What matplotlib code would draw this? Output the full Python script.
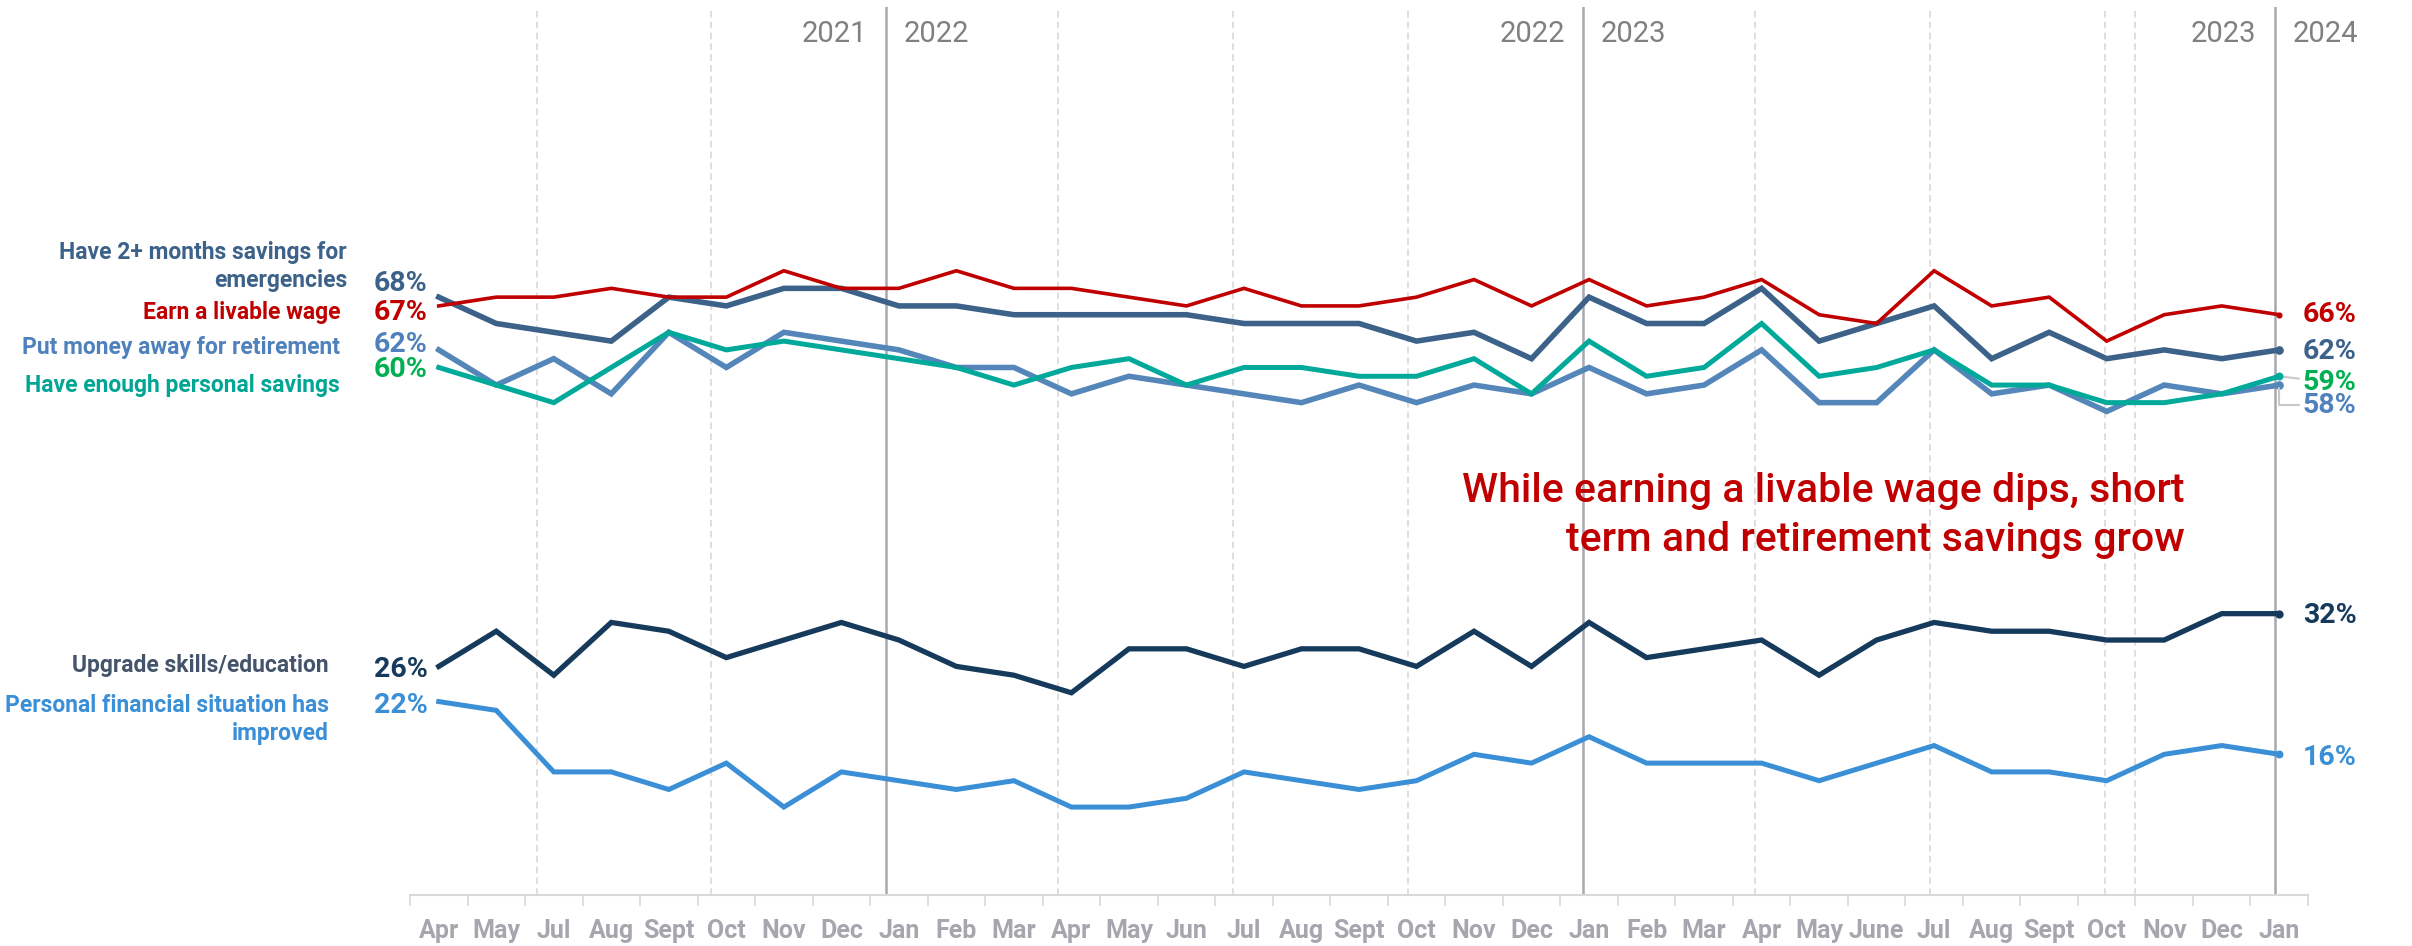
import matplotlib
matplotlib.use('Agg')
import matplotlib.pyplot as plt

plt.rcParams['font.family'] = ['Roboto', 'DejaVu Sans']

# survey waves, Apr 2021 .. Jan 2024
months = ['Apr', 'May', 'Jul', 'Aug', 'Sept', 'Oct', 'Nov', 'Dec', 'Jan', 'Feb', 'Mar',
          'Apr', 'May', 'Jun', 'Jul', 'Aug', 'Sept', 'Oct', 'Nov', 'Dec', 'Jan', 'Feb',
          'Mar', 'Apr', 'May', 'June', 'Jul', 'Aug', 'Sept', 'Oct', 'Nov', 'Dec', 'Jan']

emergencies = [68, 65, 64, 63, 68, 67, 69, 69, 67, 67, 66, 66, 66, 66, 65, 65, 65,
               63, 64, 61, 68, 65, 65, 69, 63, 65, 67, 61, 64, 61, 62, 61, 62]
livable_wage = [67, 68, 68, 69, 68, 68, 71, 69, 69, 71, 69, 69, 68, 67, 69, 67, 67,
                68, 70, 67, 70, 67, 68, 70, 66, 65, 71, 67, 68, 63, 66, 67, 66]
retirement = [62, 58, 61, 57, 64, 60, 64, 63, 62, 60, 60, 57, 59, 58, 57, 56, 58,
              56, 58, 57, 60, 57, 58, 62, 56, 56, 62, 57, 58, 55, 58, 57, 58]
personal_savings = [60, 58, 56, 60, 64, 62, 63, 62, 61, 60, 58, 60, 61, 58, 60, 60, 59,
                    59, 61, 57, 63, 59, 60, 65, 59, 60, 62, 58, 58, 56, 56, 57, 59]
upgrade_skills = [26, 30, 25, 31, 30, 27, 29, 31, 29, 26, 25, 23, 28, 28, 26, 28, 28,
                  26, 30, 26, 31, 27, 28, 29, 25, 29, 31, 30, 30, 29, 29, 32, 32]
fin_improved = [22, 21, 14, 14, 12, 15, 10, 14, 13, 12, 13, 10, 10, 11, 14, 13, 12,
                13, 16, 15, 18, 15, 15, 15, 13, 15, 17, 14, 14, 13, 16, 17, 16]

# year breaks (left year, right year)
year_breaks = [('2021', '2022'), ('2022', '2023'), ('2023', '2024')]

# quarter / year guide positions along the category axis
quarter_lines = [1.71, 4.73, 10.77, 13.81, 16.85, 22.89, 25.93, 28.97, 29.49]
year_lines = [7.77, 19.89, 31.92]

# styles: values, line colour, lw, z, name, name colour, name offset, pct colour, left pct offset, right pct offset
series = [
    (retirement, '#5586BA', 4.0, 3, 'Put money away for retirement', '#4F81BD', (-71, 2),
     '#4F81BD', (-8, 4), (17, -14.5)),
    (personal_savings, '#00A99A', 3.6, 4, 'Have enough personal savings', '#00A693', (-71, -13),
     '#00B050', (-8, -1.5), (17, -4.5)),
    (emergencies, '#3C6289', 4.0, 5, 'Have 2+ months savings for\nemergencies', '#3C6289', (-66, 22),
     '#3C6289', (-8, 10), (17, -1)),
    (livable_wage, '#C00000', 2.6, 6, 'Earn a livable wage', '#C00000', (-71, -5),
     '#C00000', (-8, -5), (17, 0)),
    (upgrade_skills, '#163A5C', 3.8, 5, 'Upgrade skills/education', '#44546A', (-79, 1),
     '#163A5C', (-8, -2), (17, -1)),
    (fin_improved, '#3A8FD6', 3.6, 5, 'Personal financial situation has\nimproved', '#3A8FD6', (-79, -13),
     '#3A8FD6', (-8, -3), (17, -2)),
]

fig = plt.figure(figsize=(24.12, 9.46), dpi=100)
ax = fig.add_axes([0.16998, 0.05391, 0.78690, 0.93869])
x = list(range(len(months)))
last = x[-1]

for q in quarter_lines:
    ax.axvline(q, color='#D9D9D9', lw=1.2, ls=(0, (4, 2.5)), zorder=1)
for yl in year_lines:
    ax.axvline(yl, color='#A8A8B0', lw=1.8, zorder=1)

for yl, (y_left, y_right) in zip(year_lines, year_breaks):
    ax.annotate(y_left, xy=(yl, 0.9696), xycoords=('data', 'axes fraction'),
                xytext=(-13, 0), textcoords='offset points', ha='right', va='center',
                fontsize=21, color='#808080')
    ax.annotate(y_right, xy=(yl, 0.9696), xycoords=('data', 'axes fraction'),
                xytext=(13, 0), textcoords='offset points', ha='left', va='center',
                fontsize=21, color='#808080')

for vals, lc, lw, z, name, ncol, noff, pcol, loff, roff in series:
    ax.plot(x, vals, color=lc, lw=lw, zorder=z, solid_joinstyle='miter')
    ax.plot([last], [vals[-1]], 'o', color=lc, ms=lw * 1.3, zorder=z)
    ax.annotate(name, xy=(0, vals[0]), xytext=noff, textcoords='offset points',
                ha='right', va='center', multialignment='right', fontsize=16.5,
                fontweight='bold', color=ncol, linespacing=1.3, annotation_clip=False)
    ax.annotate('%d%%' % vals[0], xy=(0, vals[0]), xytext=loff, textcoords='offset points',
                ha='right', va='center', fontsize=20.5, fontweight='bold', color=pcol,
                annotation_clip=False)
    arrow = None
    if vals is retirement:
        arrow = dict(arrowstyle='-', color='#C8C8C8', lw=1.5, shrinkA=1, shrinkB=2,
                     connectionstyle='angle,angleA=0,angleB=90,rad=0')
    elif vals is personal_savings:
        arrow = dict(arrowstyle='-', color='#C8C8C8', lw=1.5, shrinkA=1, shrinkB=2)
    ax.annotate('%d%%' % vals[-1], xy=(last, vals[-1]), xytext=roff, textcoords='offset points',
                ha='left', va='center', fontsize=20.5, fontweight='bold', color=pcol,
                annotation_clip=False, arrowprops=arrow)

ax.text(30.35, 46.0, 'While earning a livable wage dips, short', ha='right', va='center',
        fontsize=29.5, fontweight='medium', color='#C00000')
ax.text(30.35, 40.4, 'term and retirement savings grow', ha='right', va='center',
        fontsize=29.5, fontweight='medium', color='#C00000')

ax.set_xlim(-0.5, len(months) - 0.5)
ax.set_ylim(0, 101)
ax.set_xticks(x)
ax.set_xticklabels(months, fontsize=18, color='#A6A6AE', fontweight='bold')
ax.set_xticks([i - 0.5 for i in range(len(months) + 1)], minor=True)
ax.tick_params(axis='x', which='major', length=0, pad=17)
ax.tick_params(axis='x', which='minor', length=8, width=1.2, color='#D9D9D9')
ax.set_yticks([])
for s in ['top', 'left', 'right']:
    ax.spines[s].set_visible(False)
ax.spines['bottom'].set_color('#D9D9D9')
ax.spines['bottom'].set_linewidth(1.5)

fig.savefig('out.png', dpi=100)
